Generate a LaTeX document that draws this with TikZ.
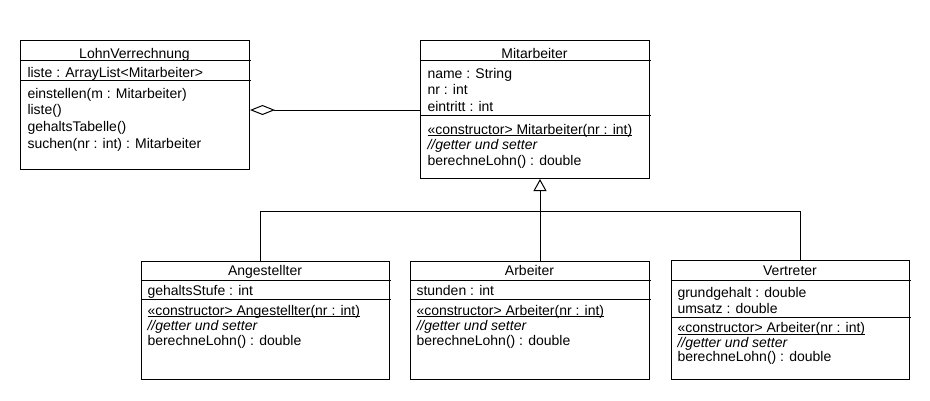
\documentclass[tikz,border=0pt]{standalone}
\usepackage{fontspec}
\setmainfont{Liberation Sans}
\usetikzlibrary{arrows.meta}

\tikzset{
  classbox/.style={draw, rectangle, anchor=north west, inner sep=0pt},
  classname/.style={anchor=base, inner sep=0pt},
  member/.style={anchor=base west, inner sep=0pt},
}
\newcommand{\ctor}[1]{\setbox0\hbox{«constructor> #1}\rlap{\rule[-2.2pt]{\wd0}{0.9pt}}\box0}

\begin{document}
\begin{tikzpicture}[x=1pt, y=-1pt, line width=1pt, font=\fontsize{14}{16}\selectfont]
  \useasboundingbox (0,0) rectangle (930,400);

  % LohnVerrechnung
  \node[classbox, minimum width=229pt, minimum height=129pt] (lv) at (20,40) {};
  \draw (20,60) -- (251,60);
  \draw (20,80) -- (251,80);
  \node[classname] (lvname) at (134.5,58) {LohnVerrechnung};
  \node[member] (lva1) at (27,77) {liste : ArrayList<Mitarbeiter>};
  \node[member] (lvm1) at (27,98) {einstellen(m : Mitarbeiter)};
  \node[member] (lvm2) at (27,114.7) {liste()};
  \node[member] (lvm3) at (27,131.3) {gehaltsTabelle()};
  \node[member] (lvm4) at (27,148) {suchen(nr : int) : Mitarbeiter};

  % Mitarbeiter
  \node[classbox, minimum width=229pt, minimum height=138pt] (mit) at (420,40) {};
  \draw (420,60) -- (651,60);
  \draw (420,115) -- (651,115);
  \node[classname] (mitname) at (534.5,58) {Mitarbeiter};
  \node[member] (mita1) at (427,78) {name : String};
  \node[member] (mita2) at (427,94.5) {nr : int};
  \node[member] (mita3) at (427,111) {eintritt : int};
  \node[member] (mitm1) at (427,134) {\ctor{Mitarbeiter(nr : int)}};
  \node[member] (mitm2) at (427,149.5) {\textit{//getter und setter}};
  \node[member] (mitm3) at (427,165) {berechneLohn() : double};

  % Angestellter
  \node[classbox, minimum width=248pt, minimum height=118pt] (ang) at (141,261) {};
  \draw (141,280) -- (391,280);
  \draw (141,299) -- (391,299);
  \node[classname] (angname) at (265,275) {Angestellter};
  \node[member] (anga1) at (147,295) {gehaltsStufe : int};
  \node[member] (angm1) at (147,315) {\ctor{Angestellter(nr : int)}};
  \node[member] (angm2) at (147,330.5) {\textit{//getter und setter}};
  \node[member] (angm3) at (147,345.5) {berechneLohn() : double};

  % Arbeiter
  \node[classbox, minimum width=239pt, minimum height=118pt] (arb) at (410,261) {};
  \draw (410,280) -- (651,280);
  \draw (410,299) -- (651,299);
  \node[classname] (arbname) at (529.5,275) {Arbeiter};
  \node[member] (arba1) at (416,295) {stunden : int};
  \node[member] (arbm1) at (416,315) {\ctor{Arbeiter(nr : int)}};
  \node[member] (arbm2) at (416,330.5) {\textit{//getter und setter}};
  \node[member] (arbm3) at (416,345.5) {berechneLohn() : double};

  % Vertreter
  \node[classbox, minimum width=238pt, minimum height=119pt] (ver) at (671,260) {};
  \draw (671,280) -- (911,280);
  \draw (671,317) -- (911,317);
  \node[classname] (vername) at (790,275) {Vertreter};
  \node[member] (vera1) at (677,297.5) {grundgehalt : double};
  \node[member] (vera2) at (677,313) {umsatz : double};
  \node[member] (verm1) at (677,332.5) {\ctor{Arbeiter(nr : int)}};
  \node[member] (verm2) at (677,347.5) {\textit{//getter und setter}};
  \node[member] (verm3) at (677,361) {berechneLohn() : double};

  % aggregation
  \coordinate (agg) at (300,110);
  \draw[-{Diamond[open, length=25pt, width=10pt]}] (mit.west |- agg) -- (lv.east |- agg);

  % generalisation
  \coordinate (busm) at (540,211);
  \coordinate (busl) at (260,211);
  \coordinate (busr) at (800,211);
  \draw[-{Triangle[open, length=12pt, width=13pt]}] (arb.north -| busm) -- (mit.south -| busm);
  \draw (ang.north -| busl) -- (busl) -- (busr) -- (ver.north -| busr);
\end{tikzpicture}
\end{document}
